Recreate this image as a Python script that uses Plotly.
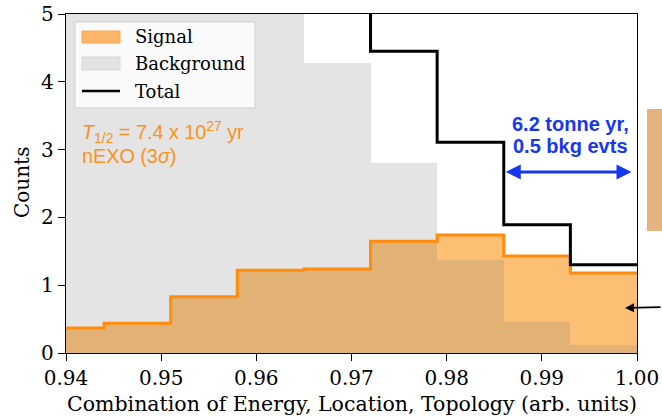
import plotly.graph_objects as go

# ---- data ----
bin_edges = [0.937, 0.944, 0.951, 0.958, 0.965, 0.972, 0.979, 0.986, 0.993, 1.000]
signal = [0.37, 0.44, 0.83, 1.22, 1.24, 1.65, 1.74, 1.43, 1.18]
background = [60.0, 35.0, 20.0, 11.0, 4.28, 2.80, 1.37, 0.46, 0.12]
total = [s + b for s, b in zip(signal, background)]
x_ticks = [0.94, 0.95, 0.96, 0.97, 0.98, 0.99, 1.00]
y_ticks = [0, 1, 2, 3, 4, 5]

centers = [(a + b) / 2 for a, b in zip(bin_edges[:-1], bin_edges[1:])]
widths = [b - a for a, b in zip(bin_edges[:-1], bin_edges[1:])]

SERIF = "DejaVu Serif"
SANS = "Liberation Sans"
ORANGE_LINE = "#FF8C0A"
SIG_FILL = "#FDBF74"
BKG_FILL = "rgba(128,128,128,0.21)"

fig = go.Figure()
fig.add_trace(go.Bar(x=centers, y=signal, width=widths, marker=dict(color=SIG_FILL, line=dict(width=0)),
                     showlegend=False, hoverinfo="skip"))
fig.add_trace(go.Bar(x=centers, y=background, width=widths, marker=dict(color=BKG_FILL, line=dict(width=0)),
                     showlegend=False, hoverinfo="skip"))
fig.add_trace(go.Scatter(x=bin_edges, y=signal + [signal[-1]], mode="lines", line=dict(shape="hv", color=ORANGE_LINE, width=3),
                         showlegend=False, hoverinfo="skip"))
fig.add_trace(go.Scatter(x=bin_edges, y=total + [total[-1]], mode="lines", line=dict(shape="hv", color="black", width=3),
                         showlegend=False, hoverinfo="skip"))

W, H = 662, 418
L, R, T, B = 66, 25, 14, 65
pw, ph = W - L - R, H - T - B

fig.update_layout(
    width=W, height=H,
    margin=dict(l=L, r=R, t=T, b=B, autoexpand=False),
    paper_bgcolor="white", plot_bgcolor="white",
    barmode="overlay", bargap=0,
    font=dict(family=SERIF, color="black"),
)
fig.update_xaxes(range=[0.94, 1.0], tickvals=x_ticks, ticktext=[f"{v:.2f}" for v in x_ticks],
                 ticks="outside", ticklen=7, tickwidth=1.3, tickcolor="black", automargin=False,
                 showline=True, linecolor="black", linewidth=1.3, mirror=True, showgrid=False, zeroline=False,
                 tickfont=dict(family=SERIF, size=20))
fig.update_yaxes(range=[0, 5], tickvals=y_ticks,
                 ticks="outside", ticklen=7, tickwidth=1.3, tickcolor="black", automargin=False,
                 showline=True, linecolor="black", linewidth=1.3, mirror=True, showgrid=False, zeroline=False,
                 tickfont=dict(family=SERIF, size=20))

def px(x):
    return (x - L) / pw
def py(y):
    return 1 - (y - T) / ph

shapes = []
# custom legend
shapes.append(dict(type="rect", xref="paper", yref="paper", x0=px(75), x1=px(255), y0=py(108), y1=py(22),
                   fillcolor="rgba(255,255,255,0.8)", line=dict(color="#d0d0d0", width=1), layer="above"))
shapes.append(dict(type="rect", xref="paper", yref="paper", x0=px(82), x1=px(120), y0=py(43), y1=py(31),
                   fillcolor="#FDB56A", line=dict(color="#F9A850", width=1), layer="above"))
shapes.append(dict(type="rect", xref="paper", yref="paper", x0=px(82), x1=px(120), y0=py(70), y1=py(57),
                   fillcolor="#E3E3E3", line=dict(color="#D8D8D8", width=1), layer="above"))
shapes.append(dict(type="line", xref="paper", yref="paper", x0=px(82), x1=px(120), y0=py(91), y1=py(91),
                   line=dict(color="black", width=2.5), layer="above"))
# partial neighbouring panel on the right
shapes.append(dict(type="rect", xref="paper", yref="paper", x0=px(647), x1=px(664), y0=py(231), y1=py(109),
                   fillcolor="#E3B47E", line=dict(width=0), layer="above"))
fig.update_layout(shapes=shapes)

ann = []
# axis titles
ann.append(dict(x=px(352), y=py(404), xref="paper", yref="paper", text="Combination of Energy, Location, Topology (arb. units)",
                showarrow=False, xanchor="center", yanchor="middle", font=dict(family=SERIF, size=20.5, color="black")))
ann.append(dict(x=px(22), y=py(183), xref="paper", yref="paper", text="Counts", textangle=-90,
                showarrow=False, xanchor="center", yanchor="middle", font=dict(family=SERIF, size=20, color="black")))
for txt, yy in [("Signal", 37), ("Background", 64), ("Total", 91)]:
    ann.append(dict(x=px(133), y=py(yy), xref="paper", yref="paper", text=txt, showarrow=False,
                    xanchor="left", yanchor="middle", font=dict(family=SERIF, size=18, color="black")))
ann.append(dict(x=px(80), y=py(132), xref="paper", yref="paper",
                text="<i>T</i><sub>1/2</sub> = 7.4 x 10<sup>27</sup> yr", showarrow=False,
                xanchor="left", yanchor="middle", font=dict(family=SANS, size=19.8, color="#F7931E")))
ann.append(dict(x=px(80), y=py(156), xref="paper", yref="paper",
                text="nEXO (3<i>σ</i>)", showarrow=False,
                xanchor="left", yanchor="middle", font=dict(family=SANS, size=19.8, color="#F7931E")))
ann.append(dict(x=px(570), y=py(124), xref="paper", yref="paper",
                text="<b>6.2 tonne yr,</b>", showarrow=False,
                xanchor="center", yanchor="middle", font=dict(family=SANS, size=20, color="#1737F0")))
ann.append(dict(x=px(570), y=py(146), xref="paper", yref="paper",
                text="<b>0.5 bkg evts</b>", showarrow=False,
                xanchor="center", yanchor="middle", font=dict(family=SANS, size=20, color="#1737F0")))
# blue double arrow spanning the last bins
ann.append(dict(x=bin_edges[7], y=2.67, ax=bin_edges[-1], ay=2.67, xref="x", yref="y", axref="x", ayref="y",
                text="", showarrow=True, arrowhead=2, startarrowhead=2, arrowside="end+start",
                arrowsize=1, arrowwidth=3, arrowcolor="#1737F0", standoff=2, startstandoff=4))
# black arrow coming from the right panel
ann.append(dict(x=px(625), y=py(308), ax=40, ay=-1, xref="paper", yref="paper", axref="pixel", ayref="pixel",
                text="", showarrow=True, arrowhead=2, arrowsize=1, arrowwidth=1.8, arrowcolor="black"))
fig.update_layout(annotations=ann)

fig.write_html("out.html", config={"displayModeBar": False},
               post_script="document.body.style.margin='0px';document.body.style.overflow='hidden';")
